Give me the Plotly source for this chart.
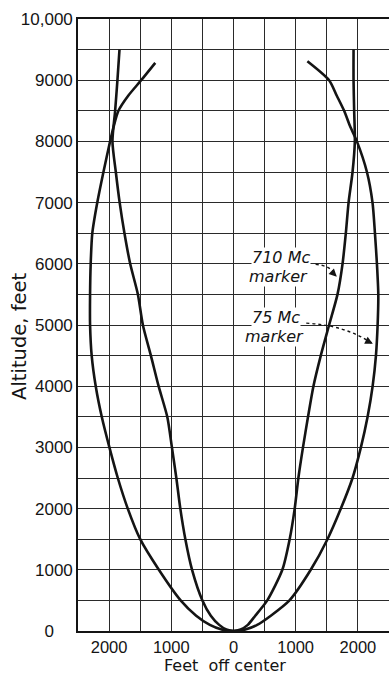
import plotly.graph_objects as go

# ---- data ----
# 75 Mc marker (outer curve)
outer_left_alt = [9284, 9000, 8750, 8500, 8250, 8000, 7500, 7000, 6500, 6000, 5500, 5000, 4500, 4000,
                  3500, 3000, 2500, 2000, 1500, 1000, 500, 250, 100, 25, 0]
outer_left_x = [-1258, -1484, -1690, -1850, -1925, -1984, -2091, -2190, -2270, -2296, -2306, -2306, -2280, -2215,
                -2118, -1995, -1860, -1700, -1500, -1200, -850, -600, -380, -190, 0]
outer_right_alt = [0, 25, 100, 250, 500, 1000, 1500, 2000, 2500, 3000, 3500, 4000, 4500,
                   5000, 5500, 6000, 6500, 7000, 7500, 8000, 8250, 8500, 8750, 9000, 9310]
outer_right_x = [0, 190, 380, 600, 900, 1242, 1511, 1726, 1914, 2048, 2156, 2237, 2290,
                 2317, 2328, 2306, 2274, 2235, 2145, 1984, 1873, 1779, 1659, 1537, 1188]

# 710 Mc marker (inner curve)
inner_left_alt = [9500, 9000, 8500, 8000, 7500, 7000, 6500, 6000, 5500, 5000, 4500, 4000,
                  3500, 3000, 2500, 2000, 1500, 1000, 500, 250, 100, 25, 0]
inner_left_x = [-1833, -1866, -1903, -1946, -1892, -1830, -1753, -1661, -1537, -1457, -1328, -1204,
                -1065, -990, -919, -855, -774, -666, -500, -365, -230, -115, 0]
inner_right_alt = [0, 25, 100, 250, 500, 1000, 1500, 2000, 2500, 3000, 3500, 4000, 4500,
                   5000, 5500, 6000, 6500, 7000, 7500, 8000, 8500, 9000, 9500]
inner_right_x = [0, 115, 230, 350, 543, 785, 903, 984, 1043, 1117, 1198, 1285, 1403,
                 1537, 1672, 1753, 1806, 1850, 1914, 1951, 1940, 1930, 1930]

x_tickvals = [-2500, -2000, -1500, -1000, -500, 0, 500, 1000, 1500, 2000, 2500]
x_ticktext = ["", "2000", "", "1000", "", "0", "", "1000", "", "2000", ""]
y_tickvals = list(range(0, 10001, 500))
y_ticktext = ["0&nbsp;&nbsp;&nbsp;&nbsp;", "", "1000", "", "2000", "", "3000", "", "4000", "", "5000", "",
              "6000", "", "7000", "", "8000", "", "9000", "", "10,000"]

INK = "#141414"

fig = go.Figure()
for lx, la, rx, ra, name in [
    (outer_left_x, outer_left_alt, outer_right_x, outer_right_alt, "75 Mc marker"),
    (inner_left_x, inner_left_alt, inner_right_x, inner_right_alt, "710 Mc marker"),
]:
    fig.add_trace(go.Scatter(
        x=lx + rx[1:], y=la + ra[1:], mode="lines", name=name,
        line=dict(color=INK, width=2.6, shape="spline", smoothing=0.7),
        showlegend=False, hoverinfo="skip"))

label_font = dict(family="DejaVu Sans", size=16, color=INK)
labels = [
    ("<i>710 Mc</i>", 770, 6100),
    ("<i>marker</i>", 720, 5800),
    ("<i>75 Mc</i>", 690, 5115),
    ("<i>marker</i>", 660, 4805),
]
for txt, x, y in labels:
    fig.add_annotation(x=x, y=y, text=txt, showarrow=False, font=label_font,
                       bgcolor="white", borderpad=0, xanchor="center", yanchor="middle")

# dashed leader curves
fig.add_shape(type="path", xref="x", yref="y",
              path="M 1320 5990 Q 1560 5975 1650 5810",
              line=dict(color=INK, width=1.4, dash="dot"))
fig.add_shape(type="path", xref="x", yref="y",
              path="M 1170 5030 Q 1800 4995 2230 4700",
              line=dict(color=INK, width=1.4, dash="dot"))
# arrowheads
fig.add_annotation(x=1660, y=5790, ax=1590, ay=5860, xref="x", yref="y", axref="x", ayref="y",
                   text="", showarrow=True, arrowhead=2, arrowsize=1.1, arrowwidth=1.4,
                   arrowcolor=INK)
fig.add_annotation(x=2240, y=4695, ax=2120, ay=4755, xref="x", yref="y", axref="x", ayref="y",
                   text="", showarrow=True, arrowhead=2, arrowsize=1.1, arrowwidth=1.4,
                   arrowcolor=INK)

# axis titles
fig.add_annotation(text="Altitude, feet", xref="paper", yref="paper", x=-0.19, y=0.482,
                   textangle=-90, showarrow=False, xanchor="center", yanchor="middle",
                   font=dict(family="DejaVu Sans", size=19.5, color=INK))
fig.add_annotation(text="Feet  off center", xref="paper", yref="paper", x=0.473, y=-0.057,
                   showarrow=False, xanchor="center", yanchor="middle", borderpad=0,
                   font=dict(family="DejaVu Sans", size=16, color=INK))

fig.update_layout(
    width=389, height=674,
    margin=dict(l=78, r=0, t=19, b=43),
    paper_bgcolor="white", plot_bgcolor="white",
    font=dict(family="Liberation Sans", color=INK),
)
fig.update_xaxes(
    range=[-2500, 2500], tickvals=x_tickvals, ticktext=x_ticktext,
    showgrid=True, gridcolor="#2a2a2a", gridwidth=1.2, zeroline=False,
    showline=True, linecolor=INK, linewidth=1.6, mirror=True, ticks="",
    tickfont=dict(family="Liberation Sans", size=16.5, color=INK),
    automargin=False, fixedrange=True,
)
fig.update_yaxes(
    range=[0, 10000], tickvals=y_tickvals, ticktext=y_ticktext,
    showgrid=True, gridcolor="#2a2a2a", gridwidth=1.2, zeroline=False,
    showline=True, linecolor=INK, linewidth=1.6, mirror=False, ticks="",
    tickfont=dict(family="Liberation Sans", size=17, color=INK),
    automargin=False, fixedrange=True,
)

fig.write_html(
    "out.html",
    config={"displayModeBar": False},
    post_script="document.body.style.margin='0';document.body.style.overflow='hidden';",
)
